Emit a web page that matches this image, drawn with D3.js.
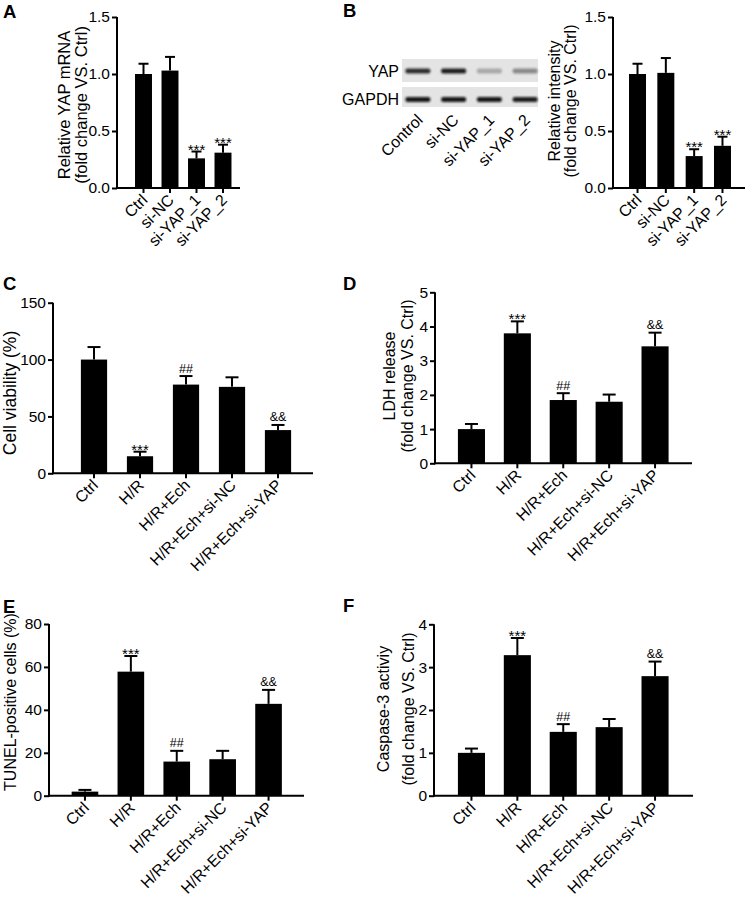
<!DOCTYPE html>
<html><head><meta charset="utf-8">
<script src="https://cdn.jsdelivr.net/npm/d3@7"></script>
<style>
body{margin:0;background:#fff;}
svg{display:block;font-family:"Liberation Sans",Arial,Helvetica,sans-serif;}
</style></head>
<body>
<svg id="fig" width="747" height="905"></svg>
<script>
// ---------- DATA ----------
const catsA = ["Ctrl","si-NC","si-YAP_1","si-YAP_2"];
const valsA = [1.00, 1.03, 0.26, 0.31];
const errA  = [0.09, 0.12, 0.06, 0.07];
const sigA  = ["","","***","***"];

const blotLanes = ["Control","si-NC","si-YAP_1","si-YAP_2"];
const blotYAP   = [0.85, 0.92, 0.28, 0.42];
const blotGAPDH = [0.95, 0.95, 0.95, 0.92];
const valsB = [1.00, 1.01, 0.28, 0.37];
const errB  = [0.09, 0.13, 0.06, 0.08];
const sigB  = ["","","***","***"];

const catsC = ["Ctrl","H/R","H/R+Ech","H/R+Ech+si-NC","H/R+Ech+si-YAP"];
const valsC = [100, 15, 78, 76, 38];
const errC  = [11, 4, 7.5, 8.4, 4.5];
const sigC  = ["","***","##","","&&"];

const valsD = [1.0, 3.8, 1.85, 1.8, 3.42];
const errD  = [0.15, 0.35, 0.2, 0.21, 0.4];
const sigD  = ["","***","##","","&&"];

const valsE = [1.9, 57.8, 15.9, 17, 42.8];
const errE  = [0.8, 7.3, 5.0, 3.9, 6.5];
const sigE  = ["","***","##","","&&"];

const valsF = [1.0, 3.28, 1.49, 1.6, 2.79];
const errF  = [0.1, 0.4, 0.18, 0.19, 0.34];
const sigF  = ["","***","##","","&&"];

const ticksA = [0, 0.5, 1.0, 1.5];
const ticksC = [0, 50, 100, 150];
const ticksD = [0, 1, 2, 3, 4, 5];
const ticksE = [0, 20, 40, 60, 80];
const ticksF = [0, 1, 2, 3, 4];

// ---------- DRAWING ----------
const svg = d3.select("#fig");
const FONT = 16, TICKFONT = 15.5;

function panel(o){
  const g = svg.append("g");
  const y = d3.scaleLinear().domain([0, o.max]).range([o.bottom, o.top]);
  const x = d3.scaleBand().domain(o.cats).range(o.band).paddingInner(o.pad).paddingOuter(o.pad/2);
  // y axis
  const ya = g.append("g").attr("transform",`translate(${o.axisX},0)`)
    .call(d3.axisLeft(y).tickValues(o.ticks).tickSize(5).tickSizeOuter(0).tickPadding(2).tickFormat(o.fmt));
  ya.select(".domain").attr("stroke","#000").attr("stroke-width",2).attr("d",`M0,${o.top}V${o.bottom+1}`);
  ya.selectAll(".tick line").attr("stroke","#000").attr("stroke-width",2);
  ya.selectAll(".tick text").attr("font-size",TICKFONT).attr("fill","#000").attr("font-family","inherit");
  // x axis
  const xa = g.append("g").attr("transform",`translate(0,${o.bottom})`)
    .call(d3.axisBottom(x).tickSize(5).tickSizeOuter(0));
  xa.select(".domain").remove();
  xa.selectAll(".tick line").attr("stroke","#000").attr("stroke-width",2);
  xa.selectAll(".tick text").attr("font-size",FONT).attr("fill","#000").attr("font-family","inherit")
    .attr("text-anchor","end").attr("dy",0).attr("y",0)
    .attr("transform",`translate(${o.lx||5},${o.ly||13}) rotate(-45)`);
  g.append("line").attr("x1",o.axisX-1).attr("x2",o.xEnd).attr("y1",o.bottom).attr("y2",o.bottom)
    .attr("stroke","#000").attr("stroke-width",2);
  // bars
  const bw = x.bandwidth();
  const data = o.cats.map((c,i)=>({c, v:o.vals[i], e:o.errs[i], s:o.sig[i]}));
  g.selectAll("rect.bar").data(data).join("rect").attr("class","bar")
    .attr("x",d=>x(d.c)).attr("width",bw)
    .attr("y",d=>y(d.v)).attr("height",d=>y(0)-y(d.v)).attr("fill","#000");
  // error bars
  g.selectAll("line.err").data(data).join("line").attr("class","err")
    .attr("x1",d=>x(d.c)+bw/2).attr("x2",d=>x(d.c)+bw/2)
    .attr("y1",d=>y(d.v)).attr("y2",d=>y(d.v+d.e)).attr("stroke","#000").attr("stroke-width",2);
  g.selectAll("line.cap").data(data).join("line").attr("class","cap")
    .attr("x1",d=>x(d.c)+bw/2-o.cap/2).attr("x2",d=>x(d.c)+bw/2+o.cap/2)
    .attr("y1",d=>y(d.v+d.e)).attr("y2",d=>y(d.v+d.e)).attr("stroke","#000").attr("stroke-width",2);
  // significance marks
  g.selectAll("text.sig").data(data.filter(d=>d.s)).join("text").attr("class","sig")
    .attr("x",d=>x(d.c)+bw/2).attr("y",d=>y(d.v+d.e) + (d.s==="***"?3:-3.5))
    .attr("text-anchor","middle").attr("font-size",d=>d.s==="***"?15:12.5).text(d=>d.s);
  // y title
  o.title.forEach((t,i)=>{
    g.append("text").attr("transform",`translate(${o.titleX[i]},${o.titleY}) rotate(-90)`)
      .attr("text-anchor","middle").attr("font-size",o.titleSize||FONT).text(t);
  });
  // panel letter
  g.append("text").attr("x",o.letterX).attr("y",o.letterY).attr("font-size",18.5)
    .attr("font-weight","bold").text(o.letter);
}

const fmt1 = d3.format(".1f"), fmt0 = d3.format("d");

panel({cats:catsA, vals:valsA, errs:errA, sig:sigA, max:1.5, ticks:ticksA, fmt:fmt1,
  axisX:117, top:17, bottom:188, xEnd:240, band:[130.25,236.25], pad:0.36, cap:10,
  title:["Relative YAP mRNA","(fold change VS. Ctrl)"], titleX:[70,87], titleY:105, titleSize:16.5,
  letter:"A", letterX:3, letterY:18});

panel({cats:catsA, vals:valsB, errs:errB, sig:sigB, max:1.5, ticks:ticksA, fmt:fmt1,
  axisX:613, top:17, bottom:188, xEnd:745, band:[623.35,736.65], pad:0.4, cap:10,
  title:["Relative intensity","(fold change VS. Ctrl)"], titleX:[560,576], titleY:101,
  letter:"B", letterX:343, letterY:17});

panel({cats:catsC, vals:valsC, errs:errC, sig:sigC, max:150, ticks:ticksC, fmt:fmt0,
  axisX:53, top:302.7, bottom:473.3, xEnd:313, band:[71,301], pad:0.43, cap:13,
  title:["Cell viability (%)"], titleX:[16], titleY:393, titleSize:17.5,
  letter:"C", letterX:3, letterY:290});

panel({cats:catsC, vals:valsD, errs:errD, sig:sigD, max:5, ticks:ticksD, fmt:fmt0,
  axisX:435, top:292.3, bottom:463.3, xEnd:692, band:[448.5,678], pad:0.41, cap:13,
  title:["LDH release","(fold change VS. Ctrl)"], titleX:[395,413], titleY:376,
  letter:"D", letterX:343, letterY:290});

panel({cats:catsC, vals:valsE, errs:errE, sig:sigE, max:80, ticks:ticksE, fmt:fmt0,
  axisX:49, top:624, bottom:795.7, xEnd:304, band:[62,291.5], pad:0.42, cap:13,
  title:["TUNEL-positive cells (%)"], titleX:[16], titleY:702,
  letter:"E", letterX:3, letterY:613});

panel({cats:catsC, vals:valsF, errs:errF, sig:sigF, max:4, ticks:ticksF, fmt:fmt0,
  axisX:434, top:624.3, bottom:795.7, xEnd:693, band:[448.5,678], pad:0.41, cap:13,
  title:["Caspase-3 activiy","(fold change VS. Ctrl)"], titleX:[389,414], titleY:709,
  letter:"F", letterX:343, letterY:612});

// ---------- WESTERN BLOT ----------
const defs = svg.append("defs");
defs.append("filter").attr("id","blur").attr("x","-30%").attr("y","-100%").attr("width","160%").attr("height","300%")
  .append("feGaussianBlur").attr("stdDeviation","1.3 1.0");
const bg = svg.append("g");
const lx = d3.scaleBand().domain(blotLanes).range([400,543]);
const strips = [{name:"YAP", y0:59, y1:82, by:71, vals:blotYAP, h:5},
                {name:"GAPDH", y0:87, y1:107, by:99.5, vals:blotGAPDH, h:5}];
strips.forEach(s=>{
  bg.append("rect").attr("x",402).attr("y",s.y0).attr("width",136).attr("height",s.y1-s.y0).attr("fill","#e4e4e4");
  bg.selectAll(null).data(blotLanes).join("rect")
    .attr("x",d=>lx(d)+lx.bandwidth()/2-12.5).attr("width",25)
    .attr("y",s.by - s.h/2).attr("height",s.h).attr("rx",2)
    .attr("fill","#111").attr("opacity",(d,i)=>s.vals[i]).attr("filter","url(#blur)");
  bg.append("text").attr("x",399).attr("y",s.by+5.5).attr("text-anchor","end").attr("font-size",FONT).text(s.name);
});
bg.selectAll("text.lane").data(blotLanes).join("text").attr("class","lane")
  .attr("text-anchor","end").attr("font-size",FONT)
  .attr("transform",d=>`translate(${lx(d)+lx.bandwidth()/2+6},${121}) rotate(-45)`).text(d=>d);
</script>
</body></html>
